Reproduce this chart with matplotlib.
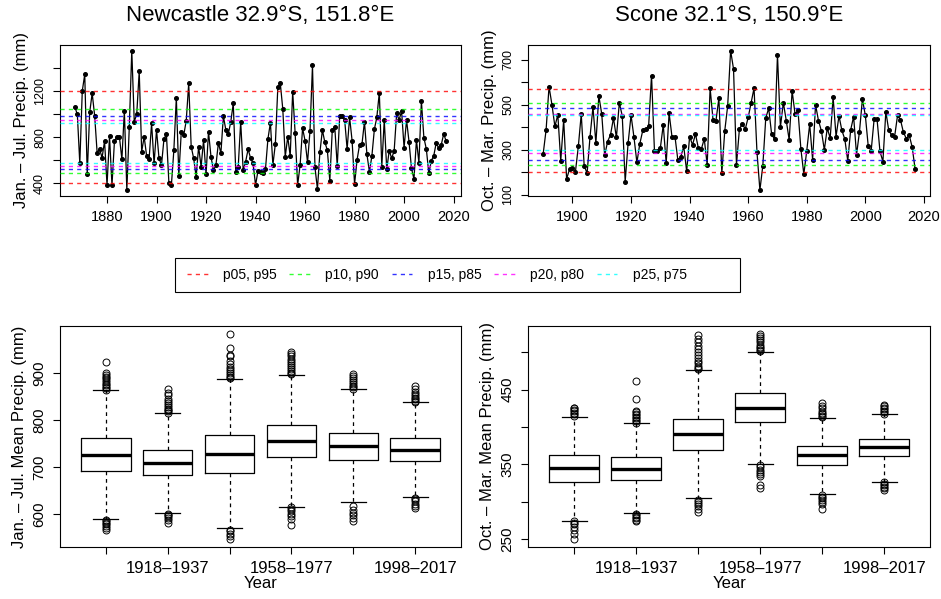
import matplotlib
matplotlib.use("Agg")
import matplotlib.pyplot as plt
import numpy as np
from matplotlib.patches import Rectangle

plt.rcParams['font.family'] = ['Liberation Sans', 'DejaVu Sans']

# ---- annual series ----
newc_years = np.arange(1867, 2018)
newc_precip = [
    1061, 998, 573, 1200, 1344, 478, 1015, 1180, 986, 666,
    697, 622, 767, 385, 807, 385, 767, 801, 804, 608,
    1030, 342, 891, 1549, 934, 998, 1370, 674, 804, 637,
    611, 920, 573, 862, 617, 559, 784, 825, 400, 385,
    689, 1142, 466, 847, 819, 943, 1266, 718, 617, 458,
    718, 544, 775, 478, 847, 631, 515, 559, 752, 660,
    983, 862, 827, 934, 1093, 501, 544, 934, 515, 588,
    697, 617, 573, 385, 510, 501, 487, 521, 784, 926,
    559, 741, 1232, 1266, 1044, 631, 804, 637, 1194, 833,
    385, 559, 877, 770, 582, 856, 1420, 539, 351, 669,
    862, 755, 689, 423, 862, 891, 550, 983, 983, 949,
    697, 972, 770, 394, 602, 732, 741, 934, 651, 501,
    637, 868, 972, 1186, 544, 949, 521, 683, 617, 683,
    1006, 949, 1027, 709, 949, 761, 530, 438, 775, 579,
    1113, 796, 697, 487, 596, 640, 752, 703, 732, 827,
    767,
]

scone_years = np.arange(1890, 2018)
scone_precip = [
    282, 389, 581, 500, 404, 456, 251, 433, 171, 214,
    221, 201, 315, 459, 229, 196, 359, 490, 330, 540,
    459, 275, 337, 367, 441, 355, 509, 451, 159, 330,
    454, 356, 244, 327, 386, 392, 404, 630, 293, 293,
    307, 411, 241, 463, 356, 359, 253, 270, 315, 204,
    359, 322, 370, 307, 303, 349, 233, 574, 433, 430,
    530, 196, 384, 496, 741, 659, 233, 392, 416, 392,
    444, 510, 574, 290, 121, 230, 441, 485, 370, 347,
    722, 401, 510, 430, 344, 562, 459, 475, 303, 192,
    296, 414, 256, 500, 430, 384, 300, 396, 352, 534,
    359, 451, 386, 347, 251, 389, 448, 278, 381, 525,
    453, 315, 297, 436, 436, 293, 248, 470, 386, 365,
    359, 453, 433, 378, 350, 364, 312, 214,
]

# percentile pairs (low, high)
pct_labels = ["p05, p95", "p10, p90", "p15, p85", "p20, p80", "p25, p75"]
pct_colors = ["#FF0000", "#00FF00", "#0000FF", "#FF00FF", "#00FFFF"]
newc_pct = [(400, 1200), (487, 1041), (521, 986), (550, 946), (579, 923)]
scone_pct = [(202, 570), (233, 509), (253, 484), (287, 459), (299, 453)]

# ---- bootstrap mean boxplots, 20-year periods ----
periods = ["1898–1917", "1918–1937", "1938–1957", "1958–1977", "1978–1997", "1998–2017"]
period_labels = ["", "1918–1937", "", "1958–1977", "", "1998–2017"]

newc_q1 = [691, 682, 687, 721, 715, 712]
newc_med = [725, 708, 728, 756, 744, 737]
newc_q3 = [761, 735, 768, 790, 773, 762]
newc_whislo = [589, 603, 570, 616, 626, 637]
newc_whishi = [863, 814, 887, 896, 865, 837]
newc_fliers = [
    [864, 867, 870, 873, 876, 880, 884, 888, 892, 896, 900, 922,
     588, 585, 582, 578, 574, 570, 566],
    [815, 818, 821, 824, 828, 832, 836, 840, 845, 852, 858, 866,
     601, 598, 595, 591, 587, 582],
    [888, 891, 895, 899, 903, 908, 913, 918, 925, 935, 938, 952, 982,
     567, 563, 558, 553, 548],
    [897, 900, 904, 908, 912, 916, 920, 925, 930, 935, 940, 944,
     614, 610, 606, 601, 596, 590, 577],
    [866, 869, 872, 876, 880, 884, 888, 893, 897,
     618, 608, 603, 598, 592, 586],
    [838, 841, 844, 847, 851, 855, 860, 865, 871,
     635, 631, 627, 622, 618, 613],
]

scone_q1 = [327, 329, 369, 407, 349, 361]
scone_med = [345, 344, 390, 426, 362, 373]
scone_q3 = [362, 360, 411, 445, 374, 384]
scone_whislo = [275, 285, 305, 350, 311, 327]
scone_whishi = [414, 405, 476, 500, 412, 417]
scone_fliers = [
    [415, 417, 419, 421, 423, 425, 426,
     274, 272, 270, 267, 263, 257, 251],
    [406, 408, 410, 412, 414, 416, 418, 420, 422, 438, 461,
     284, 282, 280, 278, 276, 274],
    [477, 479, 482, 485, 488, 492, 496, 500, 504, 508, 513, 518, 523,
     303, 300, 297, 294, 290, 286],
    [501, 503, 505, 507, 510, 513, 516, 519, 522, 524,
     349, 346, 343, 340, 337, 334, 323, 318],
    [413, 415, 417, 419, 422, 425, 428, 432,
     309, 307, 305, 303, 300, 297, 291],
    [418, 420, 422, 424, 426, 428, 430,
     326, 324, 322, 320, 318, 316],
]

W, H = 941, 599
fig = plt.figure(figsize=(W / 100, H / 100), dpi=100)


def px_axes(left, top, right, bottom):
    return fig.add_axes([left / W, 1 - bottom / H, (right - left) / W, (bottom - top) / H])


def r_style(ax, ylabsize):
    for s in ax.spines.values():
        s.set_linewidth(0.8)
    ax.tick_params(direction='out', length=5, width=0.8, pad=5)
    ax.tick_params(axis='y', labelrotation=90, labelsize=ylabsize)
    for lbl in ax.get_yticklabels():
        lbl.set_va('center')


def pad4(lo, hi):
    r = hi - lo
    return lo - 0.04 * r, hi + 0.04 * r


def series_panel(ax, years, vals, pct, yticks, ylabels, xticks, ylab):
    ax.plot(years, vals, color='black', lw=0.9, marker='o', ms=2.6, zorder=2)
    for (lo, hi), c in zip(pct, pct_colors):
        ax.axhline(lo, color=c, ls=(0, (3, 3)), lw=1, alpha=0.8, zorder=3)
        ax.axhline(hi, color=c, ls=(0, (3, 3)), lw=1, alpha=0.8, zorder=3)
    ax.set_xlim(*pad4(years[0], years[-1]))
    ax.set_ylim(*pad4(min(vals), max(vals)))
    ax.set_xticks(xticks)
    ax.set_xticklabels([str(t) for t in xticks])
    ax.tick_params(axis='x', labelsize=10.5)
    ax.set_yticks(yticks)
    ax.set_yticklabels(ylabels)
    ax.set_ylabel(ylab, fontsize=12, labelpad=4)
    r_style(ax, 9)


def box_panel(ax, q1, med, q3, wlo, whi, fliers, yticks, ylabels, ylab):
    stats = []
    for i in range(len(periods)):
        stats.append(dict(med=med[i], q1=q1[i], q3=q3[i], whislo=wlo[i],
                          whishi=whi[i], fliers=fliers[i], label=periods[i]))
    ax.bxp(stats, positions=range(1, len(periods) + 1), widths=0.8,
           boxprops=dict(lw=0.9, color='black'),
           medianprops=dict(lw=2.4, color='black'),
           whiskerprops=dict(lw=0.9, ls=(0, (3, 3)), color='black'),
           capprops=dict(lw=0.9, color='black'),
           flierprops=dict(marker='o', mfc='none', mec='black', ms=5, mew=0.7))
    allv = [v for f in fliers for v in f] + list(wlo) + list(whi)
    ax.set_ylim(*pad4(min(allv), max(allv)))
    ax.set_xlim(0.26, len(periods) + 0.74)
    ax.set_xticks(range(1, len(periods) + 1))
    ax.set_xticklabels(period_labels)
    ax.tick_params(axis='x', labelsize=12)
    ax.set_yticks(yticks)
    ax.set_yticklabels(ylabels)
    ax.set_ylabel(ylab, fontsize=12, labelpad=4)
    ax.set_xlabel("Year", fontsize=12, labelpad=0)
    r_style(ax, 11)


ax1 = px_axes(60, 45, 461, 195.7)
ax2 = px_axes(528.3, 45, 930, 195.7)
ax3 = px_axes(60, 326, 461, 546.7)
ax4 = px_axes(528.3, 326, 930, 546.7)

series_panel(ax1, newc_years, newc_precip, newc_pct,
             [400, 600, 800, 1000, 1200, 1400], ["400", "", "800", "", "1200", ""],
             range(1880, 2021, 20), "Jan. – Jul. Precip. (mm)")
series_panel(ax2, scone_years, scone_precip, scone_pct,
             [100, 200, 300, 400, 500, 600, 700], ["100", "", "300", "", "500", "", "700"],
             range(1900, 2021, 20), "Oct. – Mar. Precip. (mm)")

box_panel(ax3, newc_q1, newc_med, newc_q3, newc_whislo, newc_whishi, newc_fliers,
          [600, 700, 800, 900], ["600", "700", "800", "900"],
          "Jan. – Jul. Mean Precip. (mm)")
box_panel(ax4, scone_q1, scone_med, scone_q3, scone_whislo, scone_whishi, scone_fliers,
          [250, 300, 350, 400, 450, 500], ["250", "", "350", "", "450", ""],
          "Oct. – Mar. Mean Precip. (mm)")

fig.text(260.5 / W, 1 - 16 / H, "Newcastle 32.9°S, 151.8°E", ha='center', va='center', fontsize=16)
fig.text(729 / W, 1 - 16 / H, "Scone 32.1°S, 150.9°E", ha='center', va='center', fontsize=16)

# shared legend
handles = ax1.get_lines()[1::2]
fig.legend(handles, pct_labels, loc='center left', ncol=5, frameon=False,
           bbox_to_anchor=(187 / W, 1 - 275 / H), fontsize=10, borderpad=0,
           borderaxespad=0, handlelength=1.5, handletextpad=1.1, columnspacing=0.9)
fig.patches.append(Rectangle((175 / W, 1 - 292 / H), 565 / W, 34 / H, transform=fig.transFigure,
                             fill=False, ec='black', lw=0.8))

fig.savefig("out.png", dpi=100)
